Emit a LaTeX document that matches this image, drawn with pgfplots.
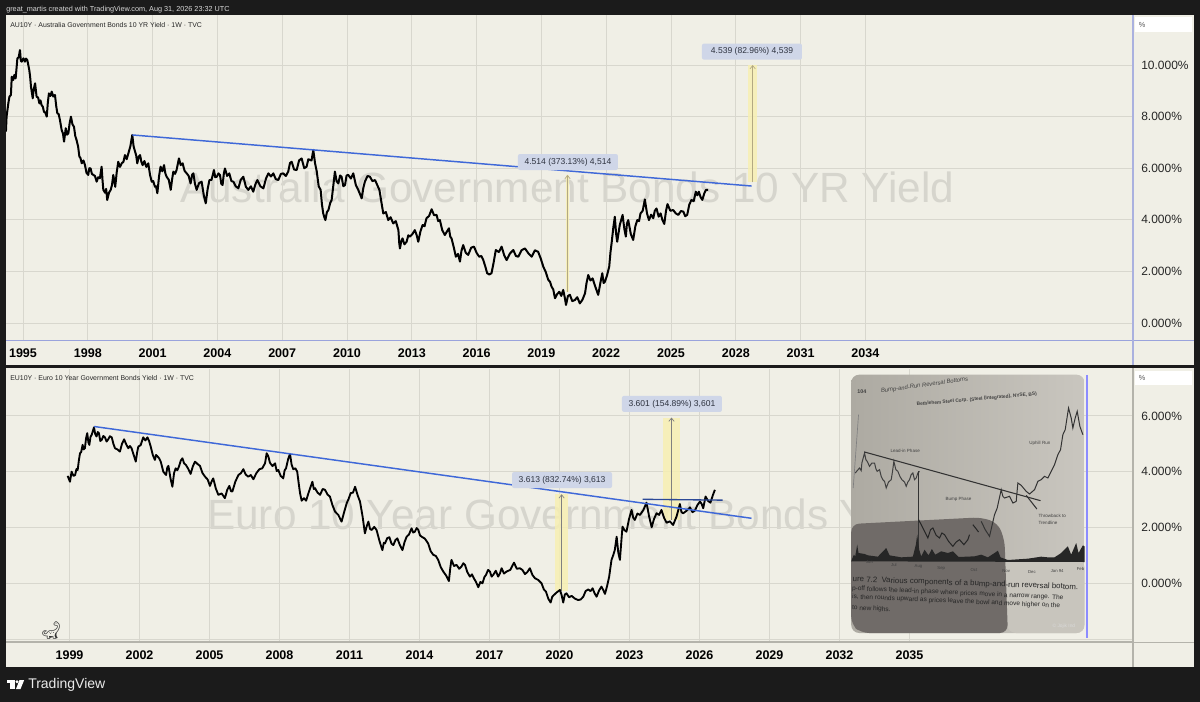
\documentclass[border=0pt]{standalone}
\usepackage{fontspec}
\usepackage{pgfplots}
\pgfplotsset{compat=1.18}
\usepackage{pgfplotstable}
\usetikzlibrary{arrows.meta}
\setmainfont{Liberation Sans}
\newfontfamily\emoji{Noto Emoji}
\definecolor{panel}{HTML}{F0EFE6}
\definecolor{frame}{HTML}{1B1B1B}
\definecolor{gridc}{HTML}{D8D7CE}
\definecolor{wm}{HTML}{D6D5CD}
\definecolor{trend}{HTML}{3F68D8}
\definecolor{band}{HTML}{F8F0B0}
\definecolor{arrowc}{HTML}{B3A983}
\definecolor{boxc}{HTML}{CFD6E8}
\definecolor{txt}{HTML}{2E3340}
\definecolor{axisblue}{HTML}{9AA3DC}
\definecolor{axisvert}{HTML}{AAB1DF}
\definecolor{axisgray}{HTML}{B4B3AB}
\definecolor{pageleft}{HTML}{ADAAA2}
\definecolor{pageright}{HTML}{C9C6BF}
\definecolor{pagelow}{HTML}{C8C5BD}
\definecolor{pagedark}{HTML}{706B68}
\pgfplotstableread{
x y
1994.21 7.42
1994.24 8.00
1994.32 8.51
1994.37 8.77
1994.44 8.84
1994.48 9.55
1994.55 9.42
1994.60 9.62
1994.66 9.48
1994.74 10.26
1994.80 10.30
1994.86 10.58
1994.90 10.16
1994.94 10.13
1995.02 10.26
1995.09 10.13
1995.14 10.25
1995.20 10.19
1995.29 9.81
1995.33 9.55
1995.37 9.16
1995.45 8.71
1995.50 9.08
1995.56 9.29
1995.63 8.77
1995.70 8.74
1995.76 8.51
1995.81 8.63
1995.86 8.45
1995.92 8.38
1995.97 8.19
1996.03 8.16
1996.10 8.00
1996.15 8.55
1996.20 8.90
1996.27 8.80
1996.33 8.97
1996.40 8.78
1996.48 8.84
1996.54 8.40
1996.59 8.13
1996.65 8.10
1996.71 7.87
1996.79 7.48
1996.85 7.35
1996.90 7.03
1996.98 7.55
1997.04 7.30
1997.10 7.35
1997.16 7.75
1997.22 8.00
1997.29 7.70
1997.36 7.61
1997.42 7.25
1997.48 7.09
1997.55 6.85
1997.61 6.45
1997.66 6.40
1997.72 6.19
1997.80 6.30
1997.87 6.12
1997.94 5.82
1998.02 5.74
1998.07 6.00
1998.13 5.99
1998.19 5.78
1998.26 5.74
1998.33 5.70
1998.41 5.48
1998.48 5.65
1998.56 5.61
1998.64 6.06
1998.68 5.55
1998.72 5.16
1998.80 5.05
1998.85 5.20
1998.90 4.77
1998.98 5.05
1999.06 5.16
1999.12 5.35
1999.18 5.74
1999.27 5.28
1999.34 5.85
1999.41 6.25
1999.49 6.05
1999.57 6.19
1999.65 6.25
1999.72 6.51
1999.80 6.35
1999.88 6.58
1999.97 6.85
2000.06 7.29
2000.12 6.85
2000.19 6.64
2000.24 6.50
2000.29 6.19
2000.36 6.45
2000.42 6.51
2000.48 6.25
2000.54 6.12
2000.62 6.28
2000.71 6.05
2000.80 6.19
2000.88 5.75
2000.96 5.48
2001.03 5.50
2001.11 5.28
2001.16 5.30
2001.22 5.03
2001.30 5.70
2001.37 6.06
2001.45 5.88
2001.53 6.12
2001.59 5.80
2001.65 5.67
2001.75 5.55
2001.84 5.16
2001.90 5.55
2001.96 5.87
2002.04 5.78
2002.11 5.93
2002.17 6.18
2002.22 6.38
2002.30 6.12
2002.39 6.19
2002.48 5.90
2002.58 5.80
2002.67 5.70
2002.76 5.41
2002.83 5.75
2002.89 5.80
2002.96 5.40
2003.04 5.16
2003.15 5.42
2003.27 5.48
2003.37 4.95
2003.46 4.64
2003.55 5.20
2003.63 5.54
2003.73 5.55
2003.84 5.93
2003.90 5.65
2003.97 5.67
2004.05 5.80
2004.12 5.74
2004.18 5.40
2004.24 5.35
2004.30 5.80
2004.35 5.99
2004.45 5.70
2004.55 5.80
2004.65 5.50
2004.74 5.48
2004.85 5.30
2004.97 5.22
2005.08 5.55
2005.20 5.67
2005.32 5.28
2005.43 5.16
2005.55 5.30
2005.66 5.09
2005.76 5.38
2005.85 5.54
2005.99 5.30
2006.13 5.22
2006.25 5.60
2006.36 5.80
2006.48 5.68
2006.59 5.80
2006.70 5.58
2006.82 5.54
2006.94 5.78
2007.05 5.80
2007.17 5.70
2007.28 5.87
2007.36 6.20
2007.44 6.25
2007.55 5.95
2007.67 5.93
2007.78 6.30
2007.90 6.38
2008.02 6.00
2008.13 6.06
2008.21 6.35
2008.29 6.32
2008.36 6.30
2008.44 6.71
2008.52 6.20
2008.60 5.87
2008.69 5.30
2008.78 5.16
2008.84 4.60
2008.90 4.25
2008.95 4.10
2009.00 3.99
2009.07 4.30
2009.14 4.38
2009.22 4.65
2009.29 4.77
2009.37 5.35
2009.44 5.87
2009.52 5.50
2009.60 5.41
2009.68 5.72
2009.75 5.67
2009.83 5.30
2009.91 5.35
2009.98 5.72
2010.06 5.74
2010.18 5.60
2010.29 5.80
2010.41 5.35
2010.52 5.16
2010.60 5.00
2010.68 4.83
2010.76 5.25
2010.83 5.48
2010.95 5.70
2011.06 5.67
2011.18 5.50
2011.30 5.54
2011.40 5.35
2011.50 5.16
2011.59 4.70
2011.68 4.25
2011.80 4.30
2011.91 3.99
2012.02 4.10
2012.14 3.86
2012.26 3.95
2012.38 3.60
2012.42 3.09
2012.45 2.89
2012.51 3.15
2012.57 3.28
2012.66 3.05
2012.76 3.15
2012.84 3.40
2012.91 3.35
2013.03 3.45
2013.14 3.60
2013.22 3.42
2013.30 3.15
2013.40 3.55
2013.50 3.80
2013.59 3.75
2013.68 4.06
2013.80 4.15
2013.92 4.41
2014.03 4.18
2014.15 4.19
2014.22 3.95
2014.30 3.99
2014.41 3.60
2014.53 3.41
2014.63 3.55
2014.72 3.67
2014.78 3.35
2014.84 3.28
2014.94 2.95
2015.04 2.57
2015.14 2.68
2015.23 2.38
2015.30 2.80
2015.38 3.02
2015.50 2.72
2015.61 2.64
2015.75 2.92
2015.88 2.96
2016.00 2.72
2016.12 2.57
2016.22 2.60
2016.31 2.44
2016.40 2.20
2016.49 1.93
2016.59 1.88
2016.69 1.93
2016.79 2.35
2016.89 2.83
2017.03 2.75
2017.16 2.96
2017.28 2.62
2017.39 2.44
2017.55 2.70
2017.70 2.83
2017.82 2.60
2017.93 2.57
2018.08 2.82
2018.24 2.89
2018.40 2.70
2018.55 2.57
2018.70 2.82
2018.85 2.76
2018.97 2.50
2019.09 2.18
2019.20 1.98
2019.32 1.67
2019.40 1.60
2019.47 1.41
2019.55 1.30
2019.63 0.96
2019.73 1.12
2019.83 1.21
2019.92 1.05
2020.01 1.28
2020.08 1.00
2020.14 0.70
2020.23 1.05
2020.32 1.09
2020.43 0.85
2020.55 0.89
2020.66 1.00
2020.78 0.76
2020.90 0.90
2021.02 1.15
2021.09 1.55
2021.17 1.86
2021.27 1.65
2021.37 1.73
2021.50 1.40
2021.63 1.09
2021.73 1.55
2021.82 1.93
2021.88 1.55
2021.94 1.60
2022.04 1.85
2022.14 2.18
2022.20 2.75
2022.25 3.09
2022.33 3.70
2022.40 4.12
2022.46 3.45
2022.51 3.15
2022.63 3.80
2022.76 4.19
2022.84 3.65
2022.91 3.35
2022.96 3.85
2023.02 3.99
2023.14 3.45
2023.25 3.22
2023.35 3.75
2023.44 3.99
2023.52 3.95
2023.59 4.25
2023.69 4.35
2023.79 4.79
2023.89 4.25
2023.98 3.99
2024.08 4.20
2024.18 4.06
2024.25 4.35
2024.33 4.44
2024.43 4.12
2024.52 4.25
2024.60 4.00
2024.69 3.84
2024.77 4.35
2024.84 4.61
2024.97 4.35
2025.10 4.38
2025.22 4.25
2025.34 4.19
2025.46 4.34
2025.57 4.32
2025.66 4.14
2025.75 4.19
2025.85 4.60
2025.95 4.77
2026.05 4.72
2026.15 5.09
2026.22 4.95
2026.29 5.09
2026.37 4.88
2026.45 4.77
2026.54 5.02
2026.62 5.16
2026.72 5.16
}\audata
\pgfplotstableread{
x y
1998.92 3.85
1999.02 3.64
1999.09 4.00
1999.17 3.85
1999.24 3.88
1999.30 4.10
1999.35 4.06
1999.40 4.40
1999.45 4.66
1999.50 4.70
1999.56 4.96
1999.61 4.80
1999.66 4.84
1999.71 5.20
1999.76 5.38
1999.81 5.05
1999.85 4.96
1999.90 5.25
1999.95 5.32
2000.05 5.59
2000.10 5.35
2000.16 5.26
2000.21 5.42
2000.26 5.38
2000.32 5.10
2000.38 5.14
2000.45 5.28
2000.52 5.23
2000.59 5.08
2000.66 5.16
2000.73 5.27
2000.81 5.23
2000.88 5.00
2000.95 4.84
2001.05 4.80
2001.16 4.72
2001.25 5.00
2001.34 5.16
2001.43 4.98
2001.52 4.84
2001.59 4.92
2001.66 4.84
2001.75 4.60
2001.84 4.36
2001.90 4.70
2001.95 4.90
2002.05 4.95
2002.16 5.23
2002.25 5.12
2002.34 5.23
2002.41 5.10
2002.48 4.90
2002.57 4.60
2002.66 4.42
2002.71 4.60
2002.76 4.56
2002.84 4.48
2002.91 4.36
2003.02 4.00
2003.14 3.88
2003.19 4.15
2003.24 4.21
2003.33 3.75
2003.41 3.46
2003.48 3.95
2003.55 4.12
2003.62 4.05
2003.69 4.18
2003.77 4.40
2003.84 4.48
2003.91 4.30
2003.99 4.24
2004.09 4.10
2004.19 3.92
2004.29 4.20
2004.38 4.36
2004.48 4.28
2004.59 4.21
2004.70 3.95
2004.81 3.82
2004.92 3.72
2005.02 3.49
2005.09 3.65
2005.16 3.76
2005.27 3.40
2005.38 3.17
2005.52 3.22
2005.66 3.05
2005.76 3.35
2005.85 3.49
2005.92 3.30
2005.98 3.29
2006.11 3.65
2006.24 3.88
2006.35 3.95
2006.45 4.09
2006.55 3.90
2006.66 3.82
2006.77 3.88
2006.88 3.73
2007.01 3.95
2007.14 4.09
2007.26 4.12
2007.38 4.30
2007.45 4.66
2007.52 4.55
2007.59 4.32
2007.70 4.20
2007.81 4.30
2007.88 4.02
2007.95 4.06
2008.05 3.85
2008.16 3.76
2008.22 4.05
2008.28 4.12
2008.37 4.45
2008.45 4.64
2008.52 4.25
2008.59 4.09
2008.68 4.12
2008.76 4.00
2008.82 3.60
2008.88 3.23
2008.95 2.96
2009.05 3.05
2009.14 2.96
2009.24 3.23
2009.33 3.45
2009.41 3.64
2009.47 3.38
2009.52 3.41
2009.63 3.25
2009.74 3.17
2009.85 3.38
2009.95 3.35
2010.06 3.18
2010.16 3.11
2010.27 2.80
2010.38 2.57
2010.52 2.45
2010.66 2.21
2010.77 2.55
2010.88 2.87
2010.96 3.02
2011.05 3.23
2011.15 3.25
2011.24 3.46
2011.35 3.15
2011.45 2.93
2011.56 2.40
2011.66 1.79
2011.74 2.05
2011.81 2.21
2011.88 1.95
2011.95 1.91
2012.06 2.02
2012.16 1.91
2012.29 1.50
2012.41 1.19
2012.47 1.45
2012.52 1.43
2012.62 1.62
2012.71 1.65
2012.80 1.42
2012.88 1.37
2012.97 1.55
2013.05 1.61
2013.16 1.37
2013.27 1.19
2013.36 1.48
2013.45 1.67
2013.55 1.75
2013.66 1.97
2013.73 1.82
2013.80 1.85
2013.88 1.98
2013.95 1.91
2014.02 1.72
2014.09 1.67
2014.23 1.60
2014.37 1.43
2014.48 1.15
2014.59 1.02
2014.70 0.98
2014.80 0.84
2014.91 0.58
2015.02 0.42
2015.14 0.28
2015.26 0.08
2015.32 0.55
2015.37 0.84
2015.48 0.62
2015.59 0.66
2015.70 0.52
2015.80 0.60
2015.88 0.72
2015.95 0.66
2016.05 0.40
2016.16 0.24
2016.25 0.32
2016.33 0.18
2016.42 0.05
2016.52 -0.14
2016.61 0.05
2016.70 0.00
2016.78 0.22
2016.85 0.30
2016.94 0.48
2017.02 0.42
2017.09 0.24
2017.16 0.30
2017.27 0.45
2017.37 0.24
2017.45 0.36
2017.52 0.54
2017.62 0.35
2017.73 0.42
2017.89 0.48
2018.05 0.74
2018.17 0.52
2018.30 0.54
2018.41 0.48
2018.52 0.33
2018.62 0.40
2018.73 0.54
2018.84 0.30
2018.95 0.18
2019.09 0.12
2019.23 0.00
2019.33 -0.22
2019.42 -0.30
2019.52 -0.55
2019.62 -0.69
2019.69 -0.48
2019.76 -0.42
2019.89 -0.32
2020.02 -0.24
2020.09 -0.42
2020.16 -0.69
2020.23 -0.40
2020.30 -0.36
2020.41 -0.50
2020.52 -0.45
2020.66 -0.55
2020.80 -0.60
2020.91 -0.58
2021.02 -0.48
2021.12 -0.28
2021.23 -0.22
2021.33 -0.28
2021.42 -0.18
2021.50 -0.35
2021.59 -0.48
2021.70 -0.25
2021.80 -0.12
2021.88 -0.25
2021.95 -0.38
2022.04 -0.10
2022.13 0.24
2022.18 0.55
2022.23 0.84
2022.30 1.00
2022.37 1.19
2022.45 1.67
2022.52 1.10
2022.59 0.84
2022.65 1.50
2022.70 2.03
2022.79 1.90
2022.87 1.85
2022.98 2.30
2023.09 2.63
2023.16 2.35
2023.23 2.27
2023.34 2.50
2023.45 2.45
2023.59 2.62
2023.73 2.89
2023.84 2.40
2023.95 2.01
2024.05 2.30
2024.16 2.51
2024.27 2.45
2024.37 2.63
2024.48 2.35
2024.59 2.17
2024.73 2.22
2024.87 2.09
2025.02 2.40
2025.16 2.84
2025.23 2.55
2025.30 2.51
2025.45 2.60
2025.59 2.72
2025.70 2.55
2025.80 2.60
2025.91 2.80
2026.02 2.93
2026.09 2.85
2026.16 2.69
2026.26 3.11
2026.37 2.95
2026.47 2.89
2026.57 3.15
2026.66 3.35
}\eudata
\pgfplotsset{
 tvaxis/.style={
  scale only axis, clip=true,
  axis line style={draw=none}, tick style={draw=none},
  grid=major, grid style={gridc, line width=0.6pt},
  xticklabel style={font=\bfseries\fontsize{9.4pt}{10pt}\selectfont, text=black, inner sep=0pt, anchor=north, yshift=-6.2pt},
  yticklabel pos=right,
  yticklabel style={font=\fontsize{9pt}{10pt}\selectfont, text=black!85, inner sep=0pt, anchor=west, xshift=6pt},
 },
}
\tikzset{
 lbl/.style={fill=boxc, rounded corners=1.5pt, inner sep=0pt, minimum width=75pt, minimum height=12pt, text=txt, font=\fontsize{6.4pt}{7pt}\selectfont},
 bandp/.style={draw=none, fill=band, fill opacity=0.8},
 arr/.style={arrowc, line width=0.5pt, -{Straight Barb[length=2.5pt,width=4pt]}},
 pg/.style={text=black!75, inner sep=0pt},
}
\begin{document}
\begin{tikzpicture}
\useasboundingbox (0,0) rectangle (900pt,-526.5pt);
\begin{scope}[x=0.75pt,y=-0.75pt]
 \fill[frame] (0,0) rectangle (1200,702);
 \fill[panel] (6,15) rectangle (1194,365);
 \fill[panel] (6,368) rectangle (1194,667);
 \node[anchor=west, inner sep=0pt, text=black!15, font=\fontsize{5.45pt}{6pt}\selectfont] at (6,10) {great\_martis created with TradingView.com, Aug 31, 2026 23:32 UTC};
 % watermarks
 \node[anchor=west, inner sep=0pt, text=wm, font=\fontsize{31.7pt}{33pt}\selectfont] at (180,187) {Australia Government Bonds 10 YR Yield};
 \node[anchor=west, inner sep=0pt, text=wm, font=\fontsize{31.7pt}{33pt}\selectfont] at (207,514) {Euro 10 Year Government Bonds Yield};
\end{scope}
% --- top panel
\begin{axis}[tvaxis, at={(4.5pt,-255pt)}, anchor=south west, width=845.25pt, height=243.75pt,
  xmin=1994.213, xmax=2046.39, ymin=-0.659, ymax=11.94,
  xtick={1995,1998,2001,2004,2007,2010,2013,2016,2019,2022,2025,2028,2031,2034},
  xticklabels={1995,1998,2001,2004,2007,2010,2013,2016,2019,2022,2025,2028,2031,2034},
  ytick={0,2,4,6,8,10},
  yticklabels={0.000\%,2.000\%,4.000\%,6.000\%,8.000\%,10.000\%},
  ]
 \addplot[bandp, forget plot] coordinates {(2020.16,1.21)(2020.27,1.21)(2020.27,5.74)(2020.16,5.74)} --cycle;
 \addplot[bandp, forget plot] coordinates {(2028.58,5.45)(2029.0,5.45)(2029.0,10.0)(2028.58,10.0)} --cycle;
 \addplot[arr, forget plot] coordinates {(2020.21,1.21)(2020.21,5.74)};
 \addplot[arr, forget plot] coordinates {(2028.78,5.45)(2028.78,10.0)};
 \addplot[black, line width=1.5pt, line join=round, forget plot] table[x=x,y=y] {\audata};
 \addplot[trend, line width=1.1pt, forget plot] coordinates {(2000.06,7.29)(2028.73,5.31)};
 \node[lbl] at (axis cs:2020.23,6.24) {4.514 (373.13\%) 4,514};
 \node[lbl] at (axis cs:2028.75,10.52) {4.539 (82.96\%) 4,539};
\end{axis}
% --- bottom panel
\begin{axis}[tvaxis, at={(4.5pt,-481.5pt)}, anchor=south west, width=845.25pt, height=204.75pt,
  xmin=1996.278, xmax=2044.58, ymin=-2.104, ymax=7.68,
  xtick={1999,2002,2005,2008,2011,2014,2017,2020,2023,2026,2029,2032,2035},
  xticklabels={1999,2002,2005,2008,2011,2014,2017,2020,2023,2026,2029,2032,2035},
  ytick={-2,0,2,4,6},
  yticklabels={,0.000\%,2.000\%,4.000\%,6.000\%},
  ]
 \addplot[bandp, forget plot] coordinates {(2019.80,-0.26)(2020.37,-0.26)(2020.37,3.19)(2019.80,3.19)} --cycle;
 \addplot[bandp, forget plot] coordinates {(2024.45,2.27)(2025.16,2.27)(2025.16,5.94)(2024.45,5.94)} --cycle;
 \addplot[arr, black!50, forget plot] coordinates {(2020.09,-0.26)(2020.09,3.19)};
 \addplot[arr, black!50, forget plot] coordinates {(2024.80,2.27)(2024.80,5.94)};
 \addplot[black, line width=1.4pt, line join=round, forget plot] table[x=x,y=y] {\eudata};
 \addplot[trend, line width=1.1pt, forget plot] coordinates {(2000.05,5.62)(2028.23,2.33)};
 \addplot[trend!70!black, line width=1pt, forget plot] coordinates {(2023.56,3.01)(2026.99,2.98)};
 \node[lbl] at (axis cs:2020.11,3.70) {3.613 (832.74\%) 3,613};
 \node[lbl] at (axis cs:2024.82,6.43) {3.601 (154.89\%) 3,601};
\end{axis}
% --- inset photograph of the book page, coordinates
\begin{axis}[at={(638.4pt,-474.75pt)}, anchor=south west, scale only axis, width=175pt, height=193.75pt,
  xmin=30, xmax=730, ymin=30, ymax=805, y dir=reverse, axis lines=none, clip=true]
 \addplot[draw=none, left color=pageleft, right color=pageright, forget plot, rounded corners=6pt] coordinates {(30,30)(730,30)(730,805)(30,805)} --cycle;
 \addplot[draw=none, fill=pagelow, forget plot, rounded corners=6pt] coordinates {(480,585)(730,585)(730,805)(500,805)} --cycle;
 \addplot[draw=none, fill=pagedark, forget plot, rounded corners=6pt] coordinates {(30,478)(420,458)(470,475)(490,525)(500,805)(60,805)(30,780)} --cycle;
 \addplot[black!50, line width=0.5pt, forget plot] coordinates {(36,370)(52,150)};
 \addplot[black!75, line width=0.75pt, forget plot] coordinates {(42,325)(48,318)(55,310)(60,318)(62,295)(70,265)(74,285)(78,290)(85,305)(92,295)(100,295)(104,312)(108,320)(115,315)(120,335)(125,345)(130,350)(135,370)(142,352)(150,345)(154,320)(158,290)(164,315)(170,320)(176,335)(182,345)(190,352)(195,365)(200,352)(205,345)(210,330)(215,325)(220,345)(225,340)(230,325)(235,320)};
 \addplot[black!80, line width=0.9pt, forget plot] coordinates {(232,320)(232,570)};
 \addplot[black!85, line width=0.75pt, forget plot] coordinates {(232,465)(240,480)(250,500)(255,510)(260,520)(268,495)(275,490)(285,512)(295,520)(302,505)(310,510)(322,530)(335,545)(345,532)(355,525)(368,540)(380,525)(385,510)};
 \addplot[black!85, line width=0.75pt, forget plot] coordinates {(395,480)(403,490)(412,502)};
 \addplot[black!80, line width=0.75pt, forget plot] coordinates {(420,470)(432,495)(445,515)(453,480)(460,450)(468,430)(480,375)(485,395)(490,400)(505,395)(515,415)(525,410)(530,355)(540,362)(555,380)(565,388)(580,375)(590,350)(600,345)(610,335)(620,340)(630,320)(640,300)(650,270)(658,255)(665,210)(672,195)(682,130)(690,160)(695,190)(702,160)(708,140)(716,185)(725,210)};
 \addplot[black!80, line width=0.8pt, forget plot] coordinates {(70,262)(598,408)};
 \addplot[black!80, line width=0.8pt, forget plot] coordinates {(555,392)(587,433)};
 \addplot[draw=none, fill=black!85, forget plot] coordinates {(30,590)(38,570)(42,575)(48,540)(52,565)(70,568)(80,572)(110,576)(135,550)(145,572)(180,578)(215,576)(224,540)(228,510)(234,555)(240,575)(250,555)(262,572)(272,553)(282,570)(300,560)(320,565)(335,560)(352,577)(400,575)(420,570)(440,578)(460,565)(470,558)(478,578)(500,586)(560,582)(600,576)(620,578)(640,578)(660,565)(680,545)(690,570)(705,535)(712,565)(725,542)(730,545)(730,592)} --cycle;
 \node[pg, rotate=8, font=\itshape\fontsize{4.4pt}{5pt}\selectfont] at (axis cs:250,62) {Bump-and-Run Reversal Bottoms};
 \node[pg, font=\bfseries\fontsize{4pt}{5pt}\selectfont] at (axis cs:62,82) {104};
 \node[pg, rotate=5, font=\bfseries\fontsize{3.6pt}{4pt}\selectfont] at (axis cs:407,104) {Bethlehem Steel Corp. (Steel (Integrated), NYSE, BS)};
 \node[pg, font=\fontsize{3.4pt}{4pt}\selectfont] at (axis cs:192,258) {Lead-in Phase};
 \node[pg, font=\fontsize{3.4pt}{4pt}\selectfont] at (axis cs:352,404) {Bump Phase};
 \node[pg, font=\fontsize{3.4pt}{4pt}\selectfont] at (axis cs:596,236) {Uphill Run};
 \node[pg, align=left, font=\fontsize{3.4pt}{5pt}\selectfont] at (axis cs:633,465) {Throwback to\\Trendline};
 \node[pg, font=\fontsize{3.2pt}{4pt}\selectfont] at (axis cs:85,592) {Jun};
 \node[pg, font=\fontsize{3.2pt}{4pt}\selectfont] at (axis cs:158,600) {Jul};
 \node[pg, font=\fontsize{3.2pt}{4pt}\selectfont] at (axis cs:232,605) {Aug};
 \node[pg, font=\fontsize{3.2pt}{4pt}\selectfont] at (axis cs:300,610) {Sep};
 \node[pg, font=\fontsize{3.2pt}{4pt}\selectfont] at (axis cs:398,615) {Oct};
 \node[pg, font=\fontsize{3.2pt}{4pt}\selectfont] at (axis cs:495,618) {Nov};
 \node[pg, font=\fontsize{3.2pt}{4pt}\selectfont] at (axis cs:572,622) {Dec};
 \node[pg, font=\fontsize{3.2pt}{4pt}\selectfont] at (axis cs:648,620) {Jan 94};
 \node[pg, font=\fontsize{3.2pt}{4pt}\selectfont] at (axis cs:718,613) {Feb};
 \node[pg, text=black!85, rotate=-2, anchor=west, font=\fontsize{5.9pt}{6pt}\selectfont] at (axis cs:34,645) {ure 7.2\ \ Various components of a bump-and-run reversal bottom.};
 \node[pg, text=black!85, rotate=-2.5, anchor=west, font=\fontsize{4.9pt}{5pt}\selectfont] at (axis cs:32,672) {p-off follows the lead-in phase where prices move in a narrow range. The};
 \node[pg, text=black!85, rotate=-2.5, anchor=west, font=\fontsize{4.9pt}{5pt}\selectfont] at (axis cs:32,697) {is, then rounds upward as prices leave the bowl and move higher on the};
 \node[pg, text=black!85, rotate=-2.5, anchor=west, font=\fontsize{4.9pt}{5pt}\selectfont] at (axis cs:32,730) {to new highs.};
 \node[pg, text=white!85!black, font=\fontsize{3.6pt}{4pt}\selectfont] at (axis cs:668,785) {\textcopyright\ Jojik Ind};
\end{axis}
\begin{scope}[x=0.75pt,y=-0.75pt]
 % axis rules
 \draw[axisblue, line width=0.6pt] (6,340) -- (1194,340);
 \draw[axisvert, line width=1.1pt] (1133,15) -- (1133,365);
 \draw[axisgray, line width=1pt] (6,642) -- (1133,642);
 \draw[axisgray, line width=0.8pt] (1133,368) -- (1133,667);
 \draw[axisgray, line width=0.6pt] (1133,642) -- (1194,642);
 \draw[blue!45!white, line width=1.5pt] (1087,375) -- (1087,638);
 % % boxes
 \fill[white] (1135,17) rectangle (1192,32);
 \fill[white] (1135,371) rectangle (1192,385);
 \node[inner sep=0pt, text=black!65, font=\fontsize{5.5pt}{6pt}\selectfont] at (1142,25) {\%};
 \node[inner sep=0pt, text=black!65, font=\fontsize{5.5pt}{6pt}\selectfont] at (1142,378) {\%};
 % titles
 \node[anchor=west, inner sep=0pt, text=black!85, font=\fontsize{5.2pt}{6pt}\selectfont] at (10,25) {AU10Y · Australia Government Bonds 10 YR Yield · 1W · TVC};
 \node[anchor=west, inner sep=0pt, text=black!85, font=\fontsize{5.2pt}{6pt}\selectfont] at (10,378) {EU10Y · Euro 10 Year Government Bonds Yield · 1W · TVC};
 % dinosaur
 \node[inner sep=0pt, text=black!80, xscale=-1, font=\emoji\fontsize{13pt}{14pt}\selectfont] at (51,631) {🦕};
 % logo
 \fill[white] (7,680) rectangle (14.5,683.2);
 \fill[white] (10.3,683) rectangle (14.5,689);
 \fill[white] (17,681.7) circle (1.7);
 \fill[white] (19.5,680) -- (24.2,680) -- (20.5,689) -- (16,689) -- cycle;
 \node[anchor=west, inner sep=0pt, text=white!92!black, font=\fontsize{10.5pt}{11pt}\selectfont] at (28,684.5) {TradingView};
\end{scope}
\end{tikzpicture}
\end{document}
